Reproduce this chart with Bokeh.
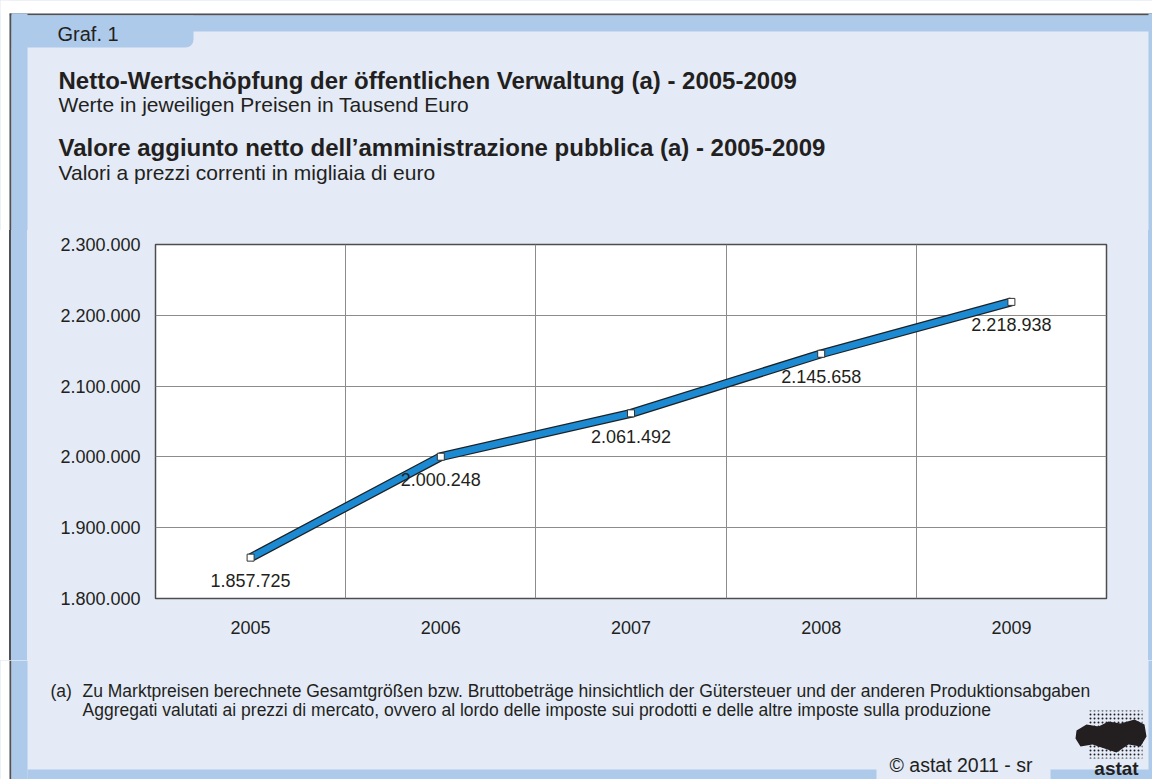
from bokeh.plotting import figure
from bokeh.layouts import column, row
from bokeh.models import (ColumnDataSource, FixedTicker, Grid, Label, LabelSet,
                          BoxAnnotation, PolyAnnotation)
from bokeh.core.properties import value
from bokeh.embed import file_html
from bokeh.resources import INLINE

# ---- data ----
years = [2005, 2006, 2007, 2008, 2009]
values = [1857725, 2000248, 2061492, 2145658, 2218938]
value_labels = ["1.857.725", "2.000.248", "2.061.492", "2.145.658", "2.218.938"]
year_labels = ["2005", "2006", "2007", "2008", "2009"]
y_ticks = [1800000, 1900000, 2000000, 2100000, 2200000, 2300000]
y_tick_labels = ["1.800.000", "1.900.000", "2.000.000", "2.100.000", "2.200.000", "2.300.000"]

graf = "Graf. 1"
title_de = "Netto-Wertschöpfung der öffentlichen Verwaltung (a) - 2005-2009"
sub_de = "Werte in jeweiligen Preisen in Tausend Euro"
title_it = "Valore aggiunto netto dell\u2019amministrazione pubblica (a) - 2005-2009"
sub_it = "Valori a prezzi correnti in migliaia di euro"
note_mark = "(a)"
note_1 = "Zu Marktpreisen berechnete Gesamtgrößen bzw. Bruttobeträge hinsichtlich der Gütersteuer und der anderen Produktionsabgaben"
note_2 = "Aggregati valutati ai prezzi di mercato, ovvero al lordo delle imposte sui prodotti e delle altre imposte sulla produzione"
copyright_txt = "\u00a9  astat 2011 - sr"
logo_txt = "astat"

FONT = "Liberation Sans"
TXT = "#231f20"
PALE = "#e4ebf7"
STRIP = "#aecaea"
DARK = "#505050"
W, H = 1152, 779
HEAD_H, MID_H = 230, 430
FOOT_H = H - HEAD_H - MID_H
WHITE_W, DARK_W, STRIP_W, RIGHT_W = 9, 2, 16, 4
INNER_L = WHITE_W + DARK_W + STRIP_W  # 27


def deco_fig(w, h, bg):
    f = figure(width=w, height=h, x_range=(0, 1), y_range=(0, 1),
               x_axis_type=None, y_axis_type=None, min_border=0,
               output_backend="svg", toolbar_location=None,
               background_fill_color=bg, border_fill_color=bg)
    f.outline_line_color = None
    f.grid.visible = False
    return f


def box(f, l, r, t, b, color, radius=0):
    f.add_layout(BoxAnnotation(left=l, right=r, top=t, bottom=b,
                               left_units="canvas", right_units="canvas",
                               top_units="canvas", bottom_units="canvas",
                               fill_color=color, fill_alpha=1, line_color=None,
                               border_radius=radius))


def label(f, x, y, text, size, bold=False, align="left", color=TXT):
    f.add_layout(Label(x=x, y=y, x_units="canvas", y_units="canvas", text=text,
                       text_font=FONT, text_font_size=size, text_color=color,
                       text_font_style="bold" if bold else "normal",
                       text_align=align, text_baseline="middle"))


def side_strips(f, h, top=0):
    box(f, 0, WHITE_W, 0, h, "white")
    box(f, WHITE_W, WHITE_W + DARK_W, top, h, DARK)
    box(f, WHITE_W + DARK_W, INNER_L, top, h, STRIP)
    box(f, W - RIGHT_W, W, top, h, STRIP)


# ---- header ----
head = deco_fig(W, HEAD_H, PALE)
box(head, 0, W, 0, 13, "white")
box(head, WHITE_W, W, 13, 15, DARK)
box(head, WHITE_W + DARK_W, W, 15, 31, STRIP)
box(head, WHITE_W + DARK_W, 193, 15, 47, STRIP, radius=(0, 0, 8, 0))
side_strips(head, HEAD_H, top=13)
label(head, 57, 33, graf, "20px")
label(head, 58, 80, title_de, "24px", bold=True)
label(head, 58, 104, sub_de, "21px")
label(head, 58, 147, title_it, "24px", bold=True)
label(head, 58, 172, sub_it, "21px")

# ---- chart ----
src = ColumnDataSource(dict(x=years, y=values, lab=value_labels))
p = figure(width=W - INNER_L - RIGHT_W, height=MID_H,
           min_border_left=155 - INNER_L, min_border_right=W - RIGHT_W - 1106,
           min_border_top=14, min_border_bottom=62,
           x_range=(2004.5, 2009.5), y_range=(1800000, 2300000),
           output_backend="svg", toolbar_location=None,
           background_fill_color="white", border_fill_color=PALE)
p.outline_line_color = "#4d4d4d"
p.outline_line_width = 1.5

for ax in (p.xaxis[0], p.yaxis[0]):
    ax.axis_line_color = None
    ax.major_tick_line_color = None
    ax.minor_tick_line_color = None
    ax.major_tick_out = 0
    ax.major_tick_in = 0
    ax.minor_tick_out = 0
    ax.major_label_text_font = FONT
    ax.major_label_text_font_size = "18px"
    ax.major_label_text_color = TXT
p.xaxis.ticker = FixedTicker(ticks=years)
p.xaxis.major_label_overrides = {yr: lab for yr, lab in zip(years, year_labels)}
p.xaxis.major_label_standoff = 22
p.yaxis.ticker = FixedTicker(ticks=y_ticks)
p.yaxis.major_label_overrides = {t: lab for t, lab in zip(y_ticks, y_tick_labels)}
p.yaxis.major_label_standoff = 15

p.xgrid.visible = False
p.ygrid.grid_line_color = "#8c8c8c"
p.ygrid.ticker = FixedTicker(ticks=y_ticks)
p.add_layout(Grid(dimension=0, ticker=FixedTicker(ticks=[y + 0.5 for y in years[:-1]]),
                  grid_line_color="#8c8c8c", grid_line_width=1))

p.line("x", "y", source=src, line_color="#1d2226", line_width=9)
p.line("x", "y", source=src, line_color="#1b8ad3", line_width=6.5)
p.scatter("x", "y", source=src, marker="square", size=7, fill_color="white",
          line_color="#333333", line_width=1)
p.add_layout(LabelSet(x="x", y="y", text="lab", source=src, y_offset=-23,
                      text_align="center", text_baseline="middle",
                      text_font=value(FONT), text_font_size="18px", text_color=TXT))

mid_white = deco_fig(WHITE_W, MID_H, "white")
mid_dark = deco_fig(DARK_W, MID_H, DARK)
mid_strip = deco_fig(STRIP_W, MID_H, STRIP)
mid_right = deco_fig(RIGHT_W, MID_H, STRIP)

# ---- footer ----
foot = deco_fig(W, FOOT_H, PALE)
side_strips(foot, FOOT_H)
box(foot, INNER_L, W, 109, FOOT_H, STRIP)
box(foot, 876, 1050, 100, FOOT_H + 6, PALE, radius=6)
label(foot, 50, 30, note_mark, "17.5px")
label(foot, 82, 30, note_1, "17.5px")
label(foot, 82, 49, note_2, "17.5px")
label(foot, 889, 104, copyright_txt, "19.5px")
# logo (dot-matrix map + wordmark)
foot.add_layout(BoxAnnotation(left=1088, right=1142, top=50, bottom=98,
                              left_units="canvas", right_units="canvas",
                              top_units="canvas", bottom_units="canvas",
                              fill_alpha=0, line_color=None,
                              hatch_pattern="dot", hatch_color="#231f20",
                              hatch_scale=4, hatch_weight=1.3))
foot.add_layout(PolyAnnotation(xs=[1076, 1086, 1098, 1108, 1120, 1134, 1144, 1146, 1140, 1128, 1116, 1104, 1092, 1080, 1075],
                               ys=[70, 64, 66, 61, 63, 59, 64, 76, 86, 84, 92, 88, 84, 86, 78],
                               xs_units="canvas", ys_units="canvas",
                               fill_color="#231f20", fill_alpha=1, line_color=None))
label(foot, 1116, 108, logo_txt, "19px", bold=True, align="center")

mid_bg = ("linear-gradient(to right, white 0px, white 9px, #505050 9px, #505050 11px, "
          "#aecaea 11px, #aecaea 27px, #e4ebf7 27px, #e4ebf7 1148px, #aecaea 1148px, #aecaea 1152px)")
middle = row(mid_white, mid_dark, mid_strip, p, mid_right, spacing=0,
             styles={"background": mid_bg})

layout = column(head, middle, foot, spacing=0, styles={"background-color": PALE})

out = open("out.html", "w")
out.write(file_html(layout, INLINE))
out.close()
